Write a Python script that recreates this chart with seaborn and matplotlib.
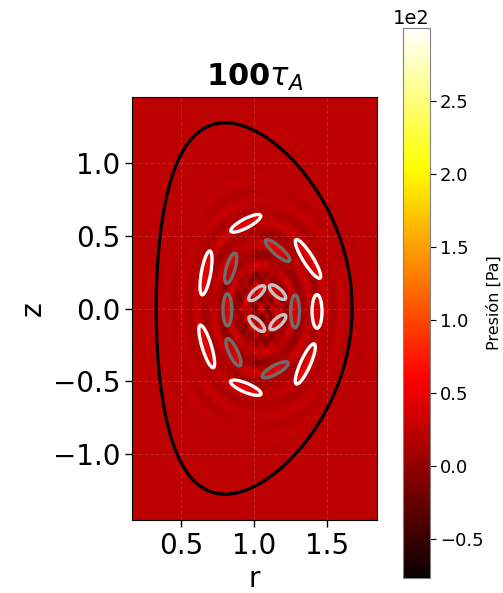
import numpy as np
import matplotlib
matplotlib.use("Agg")
import matplotlib.pyplot as plt
from matplotlib.patches import Ellipse
from matplotlib.ticker import ScalarFormatter
import seaborn as sns

# ---------------- data ----------------
title = r"$\mathbf{100}\tau_A$"
x_label = "r"
y_label = "z"
cbar_label = "Presión [Pa]"
r_ticks = [0.5, 1.0, 1.5]
z_ticks = [-1.0, -0.5, 0.0, 0.5, 1.0]
cbar_ticks = [-50, 0, 50, 100, 150, 200, 250]
p_min, p_max = -77.0, 300.0

r_range = [0.165, 1.84]
z_range = [-1.45, 1.45]

# pressure field description
p_background = 24.0
wave_center = [1.05, 0.0]
wave_stretch = 1.35
wave_extent = 0.47
wave_length = 0.11
wave_amp = 26.0
core_dip = 12.0
spot_amp = 28.0
pellet_boost = 22.0

# plasma boundary shape (R0, minor radius, elongation, triangularity)
R0, a_minor, kappa, delta = 1.0, 0.67, 1.9, 0.3

# pellets: centre r, centre z, length, width, angle (deg)
white_r = [0.943, 1.368, 1.43, 1.35, 0.943, 0.676, 0.671]
white_z = [0.584, 0.340, -0.02, -0.38, -0.543, -0.26, 0.244]
white_len = [0.23, 0.31, 0.23, 0.30, 0.225, 0.305, 0.305]
white_wid = [0.062, 0.068, 0.068, 0.068, 0.062, 0.064, 0.064]
white_ang = [28, -58, 90, 66, -23, -73, 80]

gray_r = [1.16, 0.84, 0.817, 0.858, 1.144, 1.28]
gray_z = [0.397, 0.276, -0.009, -0.30, -0.42, -0.02]
gray_len = [0.215, 0.215, 0.22, 0.205, 0.2, 0.225]
gray_wid = [0.06, 0.06, 0.06, 0.06, 0.06, 0.06]
gray_ang = [-41, 74, 90, -65, 29, 90]

light_r = [1.018, 1.16, 1.018, 1.162]
light_z = [0.105, 0.112, -0.105, -0.094]
light_len = [0.14, 0.14, 0.14, 0.14]
light_wid = [0.055, 0.055, 0.055, 0.055]
light_ang = [42, -41, -44, 43]

# ---------------- style ----------------
sns.set_style("ticks")
plt.rcParams["font.family"] = ["DejaVu Sans"]
plt.rcParams["mathtext.fontset"] = "dejavusans"
for k in ["text.color", "axes.labelcolor", "xtick.color", "ytick.color", "axes.edgecolor"]:
    plt.rcParams[k] = "black"

# ---------------- field ----------------
rr = np.linspace(r_range[0], r_range[1], 420)
zz = np.linspace(z_range[0], z_range[1], 720)
R, Z = np.meshgrid(rr, zz)
dr = R - wave_center[0]
dz = (Z - wave_center[1]) / wave_stretch
rho = np.hypot(dr, dz)
th = np.arctan2(dz, dr)
env = np.exp(-(rho / wave_extent) ** 2)
ripple = np.cos(2 * np.pi * rho / wave_length) * (0.6 + 0.4 * np.cos(6 * th + 12 * rho))
field = p_background + wave_amp * env * ripple
field -= core_dip * np.exp(-(rho / 0.4) ** 2)
field += spot_amp * np.exp(-(rho / 0.2) ** 2) * np.cos(2 * np.pi * dr / 0.07) * np.cos(2 * np.pi * dz / 0.09)

groups = [
    (white_r, white_z, white_len, white_wid, white_ang, "white"),
    (gray_r, gray_z, gray_len, gray_wid, gray_ang, "#6e6e6e"),
    (light_r, light_z, light_len, light_wid, light_ang, "#c4c4c4"),
]
for gr, gz, gl, gw, ga, _ in groups:
    for cx, cz, L, W, A in zip(gr, gz, gl, gw, ga):
        t = np.deg2rad(A)
        u = (R - cx) * np.cos(t) + (Z - cz) * np.sin(t)
        v = -(R - cx) * np.sin(t) + (Z - cz) * np.cos(t)
        inside = (u / (L / 2)) ** 2 + (v / (W / 2)) ** 2 < 1
        field[inside] += pellet_boost

# ---------------- figure ----------------
fig = plt.figure(figsize=(5.03, 5.93), dpi=100)
ax = fig.add_axes([132 / 503, 73 / 593, 245 / 503, 423 / 593])
cax = fig.add_axes([403 / 503, 15 / 593, 27 / 503, 550 / 593])

im = ax.imshow(field, extent=[r_range[0], r_range[1], z_range[0], z_range[1]],
               origin="lower", cmap="hot", vmin=p_min, vmax=p_max,
               interpolation="bilinear", aspect="auto", zorder=0)

theta = np.linspace(0, 2 * np.pi, 400)
bnd_r = R0 + a_minor * np.cos(theta + delta * np.sin(theta))
bnd_z = kappa * a_minor * np.sin(theta)
sns.lineplot(x=bnd_r, y=bnd_z, sort=False, estimator=None, color="black",
             linewidth=2.3, ax=ax, zorder=3)

for gr, gz, gl, gw, ga, col in groups:
    for cx, cz, L, W, A in zip(gr, gz, gl, gw, ga):
        ax.add_patch(Ellipse((cx, cz), L, W, angle=A, fill=False,
                             edgecolor=col, linewidth=2.4, zorder=4))

ax.set_xlim(r_range)
ax.set_ylim(z_range)
ax.set_xticks(r_ticks)
ax.set_yticks(z_ticks)
ax.tick_params(labelsize=20, length=5, width=1)
ax.set_xlabel(x_label, fontsize=20)
ax.set_ylabel(y_label, fontsize=20)
ax.set_title(title, fontsize=22, pad=8)
ax.grid(True, linestyle="--", linewidth=0.8, color="0.8", alpha=0.18)

cbar = fig.colorbar(im, cax=cax, ticks=cbar_ticks)
fmt = ScalarFormatter()
fmt.set_powerlimits((0, 0))
cbar.formatter = fmt
cbar.update_ticks()
cbar.ax.tick_params(labelsize=13, length=4, pad=3)
cbar.ax.yaxis.get_offset_text().set_fontsize(14)
cbar.set_label(cbar_label, fontsize=11.5, labelpad=2)
cbar.outline.set_edgecolor("0.5")

fig.savefig("out.png", dpi=100)
